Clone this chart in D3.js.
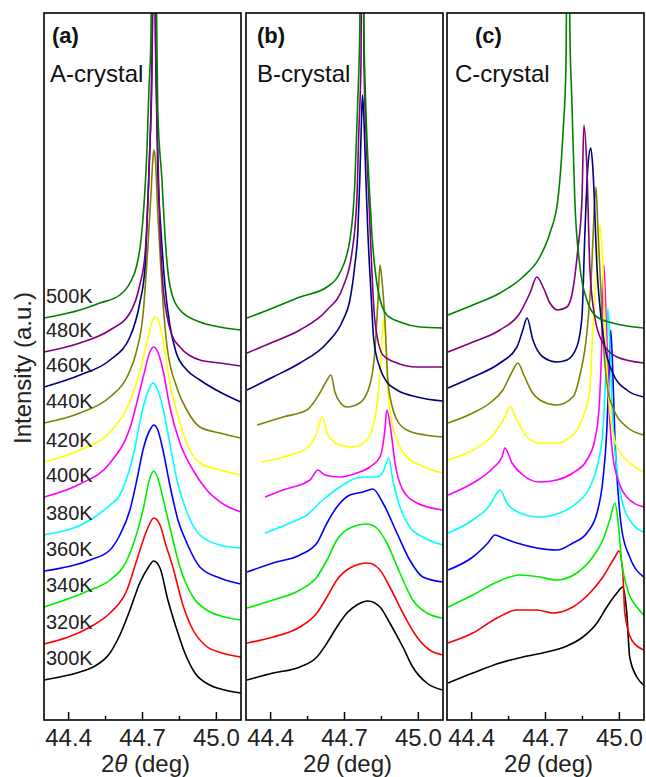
<!DOCTYPE html>
<html lang="en">
<head>
<meta charset="UTF-8">
<title>XRD peaks vs temperature</title>
<style>
  body { margin: 0; background: #fff; }
  svg { display: block; font-family: "Liberation Sans", Arial, sans-serif; }
  .frame { fill: none; stroke: #000; stroke-width: 1.6px; }
  .tick { stroke: #000; stroke-width: 1.5px; }
  .curve { fill: none; stroke-width: 1.6px; stroke-linejoin: round; }
</style>
</head>
<body>
<svg width="646" height="777"></svg>

<script src="https://d3js.org/d3.v7.min.js"></script>
<script>
// temperatures and colours (bottom to top)
const temps = ["300K", "320K", "340K", "360K", "380K", "400K", "420K", "440K", "460K", "480K", "500K"];
const colors = ["#000000", "#ff0000", "#00ee00", "#0000ff", "#00ffff", "#ff00ff",
                "#ffff00", "#808000", "#000080", "#800080", "#008000"];
const panelTags = ["(a)", "(b)", "(c)"];
const crystals = ["A-crystal", "B-crystal", "C-crystal"];
const majorTicks = [44.4, 44.7, 45.0];
const minorTicks = [44.55, 44.85];
const xDomain = [44.3, 45.1];
const yDomain = [0, 707];   // intensity, a.u. (stacked)

// ---- panel (a) : [2theta, intensity]
const a300 = [[44.300,40],[44.365,43],[44.446,48],[44.507,54],[44.568,67],[44.608,85],[44.649,110],[44.689,137],[44.722,152],[44.746,159],[44.771,152],[44.803,120],[44.836,93],[44.872,67],[44.913,47],[44.973,35],[45.034,30],[45.099,27]];
const a320 = [[44.300,76],[44.487,93],[44.568,107],[44.637,130],[44.677,160],[44.718,190],[44.746,202],[44.771,195],[44.795,175],[44.823,153],[44.864,115],[44.905,90],[44.953,75],[45.022,67],[45.099,63]];
const a340 = [[44.300,113],[44.487,130],[44.568,140],[44.637,160],[44.677,187],[44.702,210],[44.730,242],[44.746,249],[44.762,242],[44.783,222],[44.811,193],[44.852,153],[44.905,123],[44.961,110],[45.034,103],[45.099,100]];
const a360 = [[44.300,149],[44.487,160],[44.568,170],[44.608,185],[44.649,210],[44.677,240],[44.702,270],[44.730,290],[44.746,295],[44.762,290],[44.783,270],[44.811,235],[44.844,200],[44.880,177],[44.933,153],[45.014,142],[45.099,136]];
const a380 = [[44.300,185],[44.487,200],[44.568,215],[44.608,225],[44.661,263],[44.702,312],[44.730,333],[44.742,337],[44.758,332],[44.783,312],[44.803,287],[44.840,240],[44.880,208],[44.933,185],[45.014,175],[45.099,172]];
const a400 = [[44.300,223],[44.446,236],[44.568,257],[44.649,292],[44.702,342],[44.730,368],[44.746,373],[44.762,368],[44.783,350],[44.811,313],[44.852,277],[44.905,250],[44.961,230],[45.034,215],[45.099,208]];
const a420 = [[44.300,258],[44.446,270],[44.568,288],[44.637,312],[44.689,348],[44.722,382],[44.742,400],[44.754,403],[44.767,398],[44.783,380],[44.811,337],[44.852,297],[44.892,270],[44.933,257],[45.014,250],[45.099,245]];
const a440 = [[44.300,297],[44.446,307],[44.568,323],[44.637,343],[44.677,370],[44.702,405],[44.722,474],[44.734,524],[44.742,560],[44.746,570],[44.752,562],[44.762,507],[44.775,450],[44.787,405],[44.799,375],[44.840,332],[44.880,310],[44.933,293],[45.014,287],[45.099,282]];
const a460 = [[44.300,333],[44.446,345],[44.568,360],[44.649,383],[44.689,417],[44.710,452],[44.722,520],[44.734,607],[44.740,680],[44.746,820],[44.754,660],[44.762,550],[44.775,490],[44.791,435],[44.811,395],[44.836,368],[44.880,350],[44.933,340],[45.014,328],[45.099,318]];
const a480 = [[44.300,368],[44.446,377],[44.568,390],[44.649,407],[44.689,435],[44.710,465],[44.722,520],[44.730,574],[44.738,640],[44.744,870],[44.754,660],[44.762,570],[44.771,490],[44.783,435],[44.799,405],[44.819,385],[44.852,373],[44.933,360],[45.014,357],[45.099,354]];
const a500 = [[44.300,402],[44.446,410],[44.527,417],[44.608,425],[44.649,437],[44.677,455],[44.694,480],[44.706,515],[44.718,570],[44.726,630],[44.734,680],[44.744,920],[44.758,690],[44.762,610],[44.779,540],[44.791,485],[44.811,435],[44.852,410],[44.933,398],[45.014,393],[45.099,390]];

// ---- panel (b)
const b300 = [[44.304,40],[44.410,47],[44.519,53],[44.588,63],[44.629,77],[44.669,93],[44.710,107],[44.750,115],[44.795,119],[44.844,113],[44.884,97],[44.937,73],[44.977,53],[45.034,37],[45.099,30]];
const b320 = [[44.304,77],[44.410,83],[44.519,93],[44.588,107],[44.629,123],[44.669,140],[44.722,152],[44.795,157],[44.844,150],[44.884,133],[44.937,107],[44.994,83],[45.046,70],[45.099,65]];
const b340 = [[44.304,112],[44.410,120],[44.519,130],[44.588,143],[44.629,160],[44.669,180],[44.722,192],[44.791,196],[44.831,192],[44.872,177],[44.925,147],[44.977,120],[45.034,107],[45.099,102]];
const b360 = [[44.304,148],[44.410,157],[44.519,165],[44.588,177],[44.629,197],[44.669,213],[44.722,225],[44.775,228],[44.815,231],[44.856,217],[44.913,187],[44.965,160],[45.018,143],[45.099,138]];
const b380 = [[44.377,187],[44.479,197],[44.547,205],[44.612,220],[44.681,233],[44.750,242],[44.791,243],[44.831,243],[44.856,248],[44.880,262],[44.896,240],[44.925,213],[44.965,193],[45.018,183],[45.099,175]];
const b400 = [[44.377,223],[44.450,230],[44.560,240],[44.592,250],[44.620,245],[44.681,243],[44.750,247],[44.803,253],[44.844,263],[44.864,290],[44.872,310],[44.888,290],[44.905,257],[44.937,230],[44.994,217],[45.099,210]];
const b420 = [[44.365,258],[44.479,265],[44.547,272],[44.588,287],[44.608,303],[44.633,285],[44.681,275],[44.734,273],[44.791,280],[44.815,293],[44.836,323],[44.848,360],[44.856,395],[44.860,402],[44.864,395],[44.872,350],[44.884,310],[44.913,280],[44.953,263],[45.006,255],[45.099,247]];
const b440 = [[44.345,295],[44.450,303],[44.547,310],[44.600,327],[44.625,338],[44.645,345],[44.661,328],[44.681,318],[44.710,313],[44.762,317],[44.803,335],[44.823,368],[44.836,420],[44.844,455],[44.852,440],[44.864,400],[44.876,340],[44.892,315],[44.913,300],[44.953,290],[45.026,285],[45.099,283]];
const b460 = [[44.304,330],[44.410,343],[44.519,357],[44.629,377],[44.694,400],[44.722,420],[44.742,455],[44.754,487],[44.762,540],[44.769,600],[44.773,625],[44.779,600],[44.787,540],[44.795,487],[44.807,430],[44.819,380],[44.844,352],[44.872,338],[44.913,330],[44.994,323],[45.099,319]];
const b480 = [[44.304,367],[44.410,378],[44.519,390],[44.629,410],[44.694,433],[44.730,467],[44.750,520],[44.758,587],[44.767,660],[44.771,870],[44.779,660],[44.787,590],[44.799,520],[44.811,450],[44.823,400],[44.856,365],[44.913,357],[44.994,353],[45.099,353]];
const b500 = [[44.304,402],[44.410,412],[44.519,423],[44.629,433],[44.681,447],[44.722,480],[44.742,537],[44.754,620],[44.762,690],[44.771,920],[44.779,690],[44.787,610],[44.799,540],[44.811,487],[44.836,430],[44.872,405],[44.925,398],[45.006,393],[45.099,392]];

// ---- panel (c)
const c300 = [[44.304,37],[44.405,47],[44.515,57],[44.608,63],[44.706,68],[44.787,74],[44.852,83],[44.909,97],[44.949,113],[44.990,127],[45.014,133],[45.030,107],[45.042,63],[45.071,43],[45.099,35]];
const c320 = [[44.304,77],[44.405,87],[44.503,102],[44.584,110],[44.665,110],[44.730,107],[44.811,113],[44.880,127],[44.933,143],[44.982,163],[44.998,169],[45.014,147],[45.022,107],[45.050,80],[45.099,70]];
const c340 = [[44.304,113],[44.405,125],[44.503,138],[44.596,145],[44.677,143],[44.746,140],[44.827,147],[44.892,163],[44.933,180],[44.961,200],[44.982,217],[44.994,200],[45.010,157],[45.030,133],[45.071,113],[45.099,105]];
const c360 = [[44.304,150],[44.405,163],[44.466,177],[44.495,185],[44.527,182],[44.584,177],[44.665,172],[44.746,170],[44.811,177],[44.868,187],[44.909,207],[44.933,240],[44.949,290],[44.957,340],[44.965,390],[44.973,350],[44.982,280],[44.994,230],[45.010,190],[45.042,163],[45.099,143]];
const c380 = [[44.304,187],[44.405,200],[44.474,215],[44.503,227],[44.515,230],[44.543,217],[44.596,207],[44.677,203],[44.758,207],[44.827,217],[44.880,233],[44.913,257],[44.933,290],[44.945,350],[44.953,412],[44.961,380],[44.969,320],[44.982,270],[45.002,230],[45.042,200],[45.099,188]];
const c400 = [[44.304,225],[44.405,237],[44.487,252],[44.523,263],[44.535,272],[44.564,257],[44.608,245],[44.677,238],[44.746,240],[44.811,247],[44.868,260],[44.900,280],[44.917,310],[44.929,380],[44.937,455],[44.945,410],[44.957,320],[44.973,265],[45.002,235],[45.030,223],[45.099,213]];
const c420 = [[44.304,260],[44.405,270],[44.487,285],[44.535,303],[44.556,313],[44.584,300],[44.625,283],[44.677,277],[44.746,277],[44.811,285],[44.852,303],[44.880,330],[44.892,390],[44.909,453],[44.921,495],[44.933,453],[44.949,353],[44.961,310],[44.990,273],[45.030,260],[45.099,248]];
const c440 = [[44.304,297],[44.405,307],[44.474,317],[44.527,330],[44.564,348],[44.588,357],[44.612,345],[44.645,328],[44.677,320],[44.746,315],[44.811,323],[44.840,345],[44.868,387],[44.888,453],[44.896,500],[44.905,533],[44.913,490],[44.925,430],[44.937,370],[44.953,330],[44.973,313],[45.030,293],[45.099,285]];
const c460 = [[44.304,332],[44.405,343],[44.515,357],[44.584,373],[44.608,390],[44.625,402],[44.649,380],[44.690,363],[44.746,358],[44.787,360],[44.827,373],[44.848,403],[44.860,487],[44.872,553],[44.884,572],[44.892,553],[44.909,453],[44.933,387],[44.973,347],[45.030,330],[45.099,323]];
const c480 = [[44.304,368],[44.405,378],[44.515,390],[44.596,407],[44.637,427],[44.665,443],[44.690,433],[44.718,417],[44.750,410],[44.787,413],[44.811,430],[44.831,470],[44.848,520],[44.856,595],[44.868,553],[44.880,453],[44.900,403],[44.933,377],[44.990,363],[45.099,357]];
const c500 = [[44.304,405],[44.405,415],[44.515,427],[44.608,443],[44.677,463],[44.718,487],[44.750,520],[44.771,587],[44.783,653],[44.791,920],[44.799,690],[44.807,620],[44.819,520],[44.840,453],[44.868,420],[44.909,403],[44.973,397],[45.099,392]];

const seriesA = [a300, a320, a340, a360, a380, a400, a420, a440, a460, a480, a500];
const seriesB = [b300, b320, b340, b360, b380, b400, b420, b440, b460, b480, b500];
const seriesC = [c300, c320, c340, c360, c380, c400, c420, c440, c460, c480, c500];

const svg = d3.select("svg");
const plotTop = 13, plotBottom = 720;

const panels = [
  { left: 44,  right: 241, series: seriesA, tagX: 52,  nameX: 50 },
  { left: 246, right: 443, series: seriesB, tagX: 257, nameX: 257 },
  { left: 447, right: 644, series: seriesC, tagX: 475, nameX: 455 }
];

const y = d3.scaleLinear().domain(yDomain).range([plotBottom, plotTop]);

panels.forEach((p, i) => {
  const x = d3.scaleLinear().domain(xDomain).range([p.left, p.right]);
  const g = svg.append("g");

  g.append("clipPath").attr("id", "clip" + i)
    .append("rect")
    .attr("x", p.left).attr("y", plotTop)
    .attr("width", p.right - p.left).attr("height", plotBottom - plotTop);

  const line = d3.line()
    .x(d => x(d[0]))
    .y(d => y(d[1]))
    .curve(d3.curveMonotoneX);

  g.append("g").attr("clip-path", `url(#clip${i})`)
    .selectAll("path")
    .data(p.series)
    .join("path")
    .attr("class", "curve")
    .attr("stroke", (d, j) => colors[j])
    .attr("d", line);

  // frame
  g.append("rect").attr("class", "frame")
    .attr("x", p.left).attr("y", plotTop)
    .attr("width", p.right - p.left).attr("height", plotBottom - plotTop);

  // inward ticks on the bottom edge
  g.selectAll(".major")
    .data(majorTicks)
    .join("line")
    .attr("class", "tick major")
    .attr("x1", d => x(d)).attr("x2", d => x(d))
    .attr("y1", plotBottom).attr("y2", plotBottom - 8);

  g.selectAll(".minor")
    .data(minorTicks)
    .join("line")
    .attr("class", "tick minor")
    .attr("x1", d => x(d)).attr("x2", d => x(d))
    .attr("y1", plotBottom).attr("y2", plotBottom - 4);

  g.selectAll(".ticklabel")
    .data(majorTicks)
    .join("text")
    .attr("class", "ticklabel")
    .attr("x", d => x(d))
    .attr("y", 746)
    .attr("text-anchor", "middle")
    .attr("font-size", 24)
    .attr("fill", "#222")
    .text(d => d.toFixed(1));

  const title = g.append("text")
    .attr("x", (p.left + p.right) / 2 + 3)
    .attr("y", 772)
    .attr("text-anchor", "middle")
    .attr("font-size", 24)
    .attr("fill", "#222");
  title.append("tspan").text("2");
  title.append("tspan").attr("font-style", "italic").text("\u03b8");
  title.append("tspan").text(" (deg)");

  g.append("text")
    .attr("x", p.tagX).attr("y", 43)
    .attr("font-size", 22).attr("font-weight", "bold")
    .attr("fill", "#111")
    .text(panelTags[i]);

  g.append("text")
    .attr("x", p.nameX).attr("y", 82)
    .attr("font-size", 24)
    .attr("fill", "#111")
    .text(crystals[i]);
});

// temperature labels in panel (a), just above each curve's left end
svg.append("g")
  .selectAll("text")
  .data(seriesA)
  .join("text")
  .attr("x", 46)
  .attr("y", d => y(d[0][1]) - 15)
  .attr("font-size", 20)
  .attr("fill", "#222")
  .text((d, j) => temps[j]);

// y axis title
svg.append("text")
  .attr("transform", "translate(31,368) rotate(-90)")
  .attr("text-anchor", "middle")
  .attr("font-size", 24)
  .attr("fill", "#222")
  .text("Intensity (a.u.)");
</script>
</body>
</html>
